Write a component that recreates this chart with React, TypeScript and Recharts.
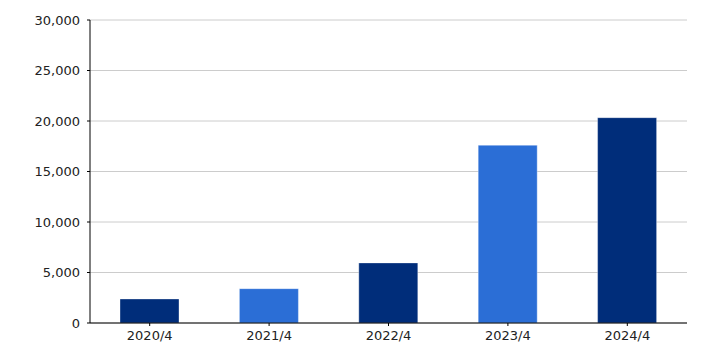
import { BarChart, Bar, XAxis, YAxis, CartesianGrid, Cell } from 'recharts';

const categories = ['2020/4', '2021/4', '2022/4', '2023/4', '2024/4'];
const values = [2380, 3400, 5950, 17600, 20330];
const barColors = ['#002d7a', '#2b6ed6', '#002d7a', '#2b6ed6', '#002d7a'];
const yTicks = [0, 5000, 10000, 15000, 20000, 25000, 30000];

const data = categories.map((name, i) => ({ name, value: values[i] }));

const fmt = (v: number) => v.toLocaleString('en-US');

function App() {
  return (
    <div style={{ fontFamily: 'Verdana, "DejaVu Sans", sans-serif' }}>
      <BarChart
        width={698}
        height={345}
        data={data}
        margin={{ top: 12, right: 19, left: 0, bottom: 0 }}
        barSize={59}
      >
        <CartesianGrid vertical={false} stroke="#cccccc" />
        <XAxis
          dataKey="name"
          height={30}
          stroke="#000000"
          tickSize={3}
          tickMargin={5}
          tick={{ fill: '#222222', fontSize: 13 }}
        />
        <YAxis
          width={82}
          domain={[0, 30000]}
          ticks={yTicks}
          tickFormatter={fmt}
          stroke="#000000"
          tickSize={3}
          tickMargin={7}
          tick={{ fill: '#222222', fontSize: 13 }}
          interval={0}
        />
        <Bar dataKey="value" isAnimationActive={false} stroke="#ffffff" strokeOpacity={0.35}>
          {data.map((d, i) => (
            <Cell key={d.name} fill={barColors[i]} />
          ))}
        </Bar>
      </BarChart>
    </div>
  );
}

export default App;
